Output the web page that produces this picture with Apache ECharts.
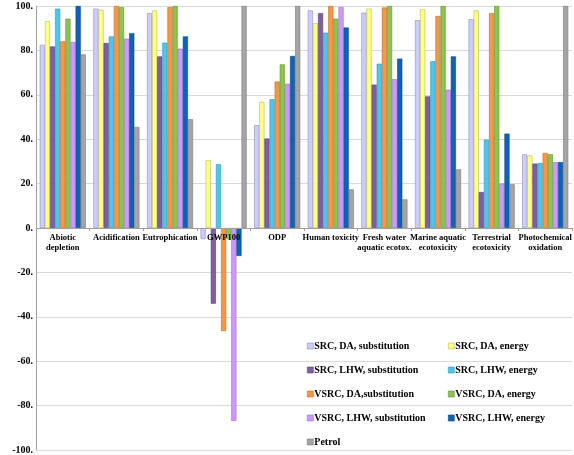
<!DOCTYPE html>
<html>
<head>
<meta charset="utf-8">
<script src="https://cdn.jsdelivr.net/npm/echarts@6/dist/echarts.min.js"></script>
<style>
html,body{margin:0;padding:0;background:#fff;}
#c{width:574px;height:455px;}
</style>
</head>
<body>
<div id="c"></div>
<script>
const categories = ["Abiotic\ndepletion", "Acidification", "Eutrophication", "GWP100", "ODP", "Human toxicity", "Fresh water\naquatic ecotox.", "Marine aquatic\necotoxicity", "Terrestrial\necotoxicity", "Photochemical\noxidation"];
const seriesNames = ["SRC, DA, substitution", "SRC, DA, energy", "SRC, LHW, substitution", "SRC, LHW, energy", "VSRC, DA,substitution", "VSRC, DA, energy", "VSRC, LHW, substitution", "VSRC, LHW, energy", "Petrol"];
const srcDaSub   = [82.5, 98.8, 96.8, -5,   46.3, 98,   97,   93.6, 94,   33.2];
const srcDaEn    = [93.2, 98.3, 98,   30.5, 56.8, 92.3, 98.8, 98.5, 98,   32.7];
const srcLhwSub  = [81.8, 83.3, 77.3, -34.1, 40.3, 96.8, 64.6, 59.3, 16.2, 29];
const srcLhwEn   = [98.8, 86.3, 83.5, 28.7, 58,   88,   74,   75.1, 39.8, 29.3];
const vsrcDaSub  = [84.2, 100,  99.5, -46.4, 66,  100,  99.3, 95.5, 96.8, 33.8];
const vsrcDaEn   = [94.3, 99.5, 100,  -5,   73.7, 94.3, 100,  100,  100,  33.2];
const vsrcLhwSub = [83.8, 85.3, 80.8, -86.9, 65,  99.5, 67,   62.3, 20,   29.6];
const vsrcLhwEn  = [100,  87.8, 86.3, -12.6, 77.5, 90.3, 76.3, 77.3, 42.5, 29.7];
const petrol     = [78.2, 45.5, 49,   100,  100,  17.4, 12.9, 26.4, 19.7, 100];
const yTicks = [-100, -80, -60, -40, -20, 0, 20, 40, 60, 80, 100];

const values = [srcDaSub, srcDaEn, srcLhwSub, srcLhwEn, vsrcDaSub, vsrcDaEn, vsrcLhwSub, vsrcLhwEn, petrol];
const colors = ['#CCCCFF', '#FFFF80', '#7D60A0', '#4BC6F0', '#F79646', '#8DC450', '#CC99FF', '#0F62B8', '#A5A5A5'];
const borders = ['#8E8EC0', '#B8B860', '#5A4278', '#3497BA', '#C0712F', '#679236', '#9A70C8', '#0A4888', '#7A7A7A'];

const font = '"Liberation Serif", "Times New Roman", serif';

const chart = echarts.init(document.getElementById('c'), null, {renderer: 'canvas'});
const series = seriesNames.map((n, i) => ({
  name: n,
  type: 'bar',
  data: values[i],
  barGap: '0%',
  barCategoryGap: '14%',
  itemStyle: {color: colors[i], borderColor: borders[i], borderWidth: 0.6},
  emphasis: {disabled: true}
}));

const legendText = {fontFamily: font, fontWeight: 'bold', fontSize: 10, color: '#000', padding: [0, 0, 0, -4], lineHeight: 12};
const legendBase = {
  orient: 'vertical', top: 340, height: 120, padding: 0,
  itemWidth: 6, itemHeight: 6, itemGap: 12,
  icon: 'rect', textStyle: legendText,
  itemStyle: {borderWidth: 0.6}
};
chart.setOption({
  animation: false,
  grid: {left: 36, right: 2, top: 6, bottom: 5, containLabel: false, outerBoundsMode: 'none'},
  legend: [
    Object.assign({}, legendBase, {data: [0, 2, 4, 6, 8].map(i => seriesNames[i]), left: 307}),
    Object.assign({}, legendBase, {data: [1, 3, 5, 7].map(i => seriesNames[i]), left: 448})
  ],
  xAxis: {
    type: 'category',
    data: categories,
    position: 'bottom',
    offset: -222,
    z: 5,
    axisLine: {onZero: false, lineStyle: {color: '#A0A0A0', width: 1}},
    axisTick: {show: true, length: 3, lineStyle: {color: '#A0A0A0'}},
    axisLabel: {interval: 0, fontFamily: font, fontWeight: 'bold', fontSize: 8.5, color: '#000', margin: 5, lineHeight: 10}
  },
  yAxis: {
    type: 'value',
    min: yTicks[0], max: yTicks[yTicks.length - 1], interval: 20,
    name: '%', nameLocation: 'middle', nameGap: 32, nameRotate: 90,
    nameTextStyle: {fontFamily: font, fontWeight: 'bold', fontSize: 10, color: '#000'},
    axisLine: {show: true, lineStyle: {color: '#A0A0A0'}},
    axisTick: {show: false},
    splitLine: {lineStyle: {color: '#D9D9D9', width: 1}},
    axisLabel: {fontFamily: font, fontWeight: 'bold', fontSize: 10, color: '#000', margin: 3,
      formatter: v => v + '.'}
  },
  series: series
});
</script>
</body>
</html>
